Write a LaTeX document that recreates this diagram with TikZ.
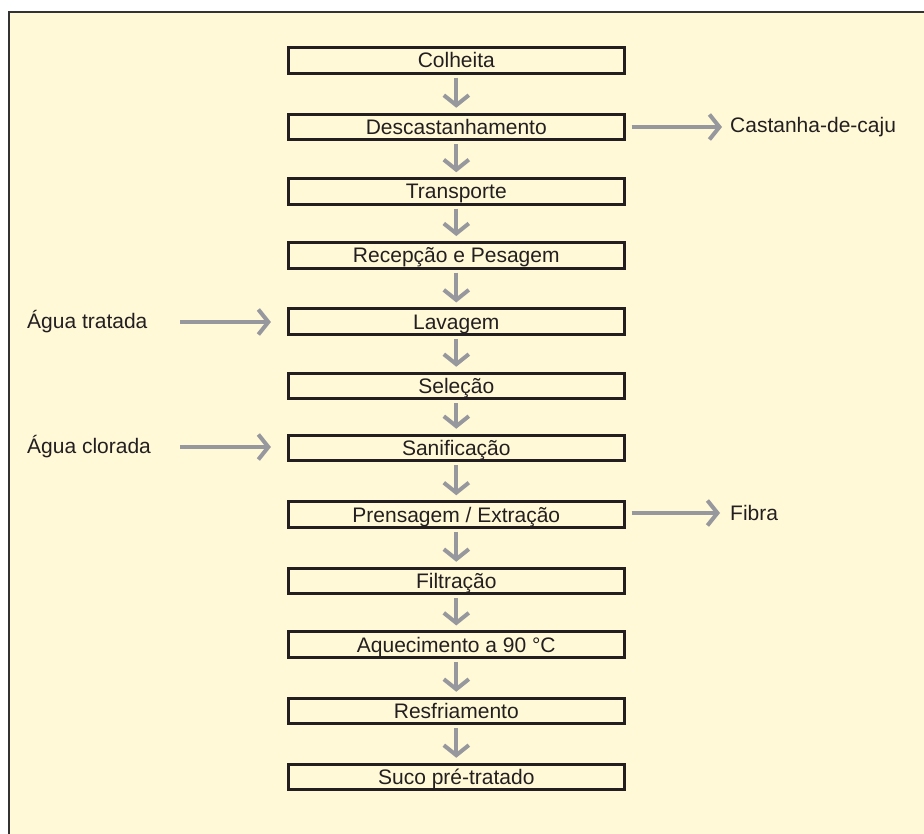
\documentclass[tikz,border=0pt]{standalone}
\usepackage{fontspec}
\setmainfont{Liberation Sans}
\usetikzlibrary{arrows.meta}
\definecolor{bgyellow}{RGB}{255,249,215}
\definecolor{arrgray}{RGB}{150,152,158}
\definecolor{ink}{RGB}{35,31,32}
\begin{document}
\begin{tikzpicture}[x=1pt,y=-1pt,
  stepbox/.style={draw=ink,line width=2.8pt,minimum width=336pt,minimum height=25.7pt,inner sep=0pt,text height=15pt,text depth=0pt,fill=bgyellow,text=ink,font=\fontsize{21}{25}\selectfont},
  lbl/.style={inner sep=0pt,text=ink,font=\fontsize{21}{25}\selectfont},
  flow/.style={draw=arrgray,line width=4pt,-{Straight Barb[length=10pt,width=25pt]}}
]
\useasboundingbox (0,0) rectangle (924,834);
\fill[white] (0,0) rectangle (924,834);
\draw[fill=bgyellow,draw=black!80,line width=2pt] (9,12) rectangle (940,850);

\node[stepbox] (n1) at (456.3,60.5) {Colheita};
\node[stepbox] (n2) at (456.3,127) {Descastanhamento};
\node[stepbox] (n3) at (456.3,191.5) {Transporte};
\node[stepbox] (n4) at (456.3,255.3) {Recepção e Pesagem};
\node[stepbox] (n5) at (456.3,321.7) {Lavagem};
\node[stepbox] (n6) at (456.3,386) {Seleção};
\node[stepbox] (n7) at (456.3,448) {Sanificação};
\node[stepbox] (n8) at (456.3,514.5) {Prensagem / Extração};
\node[stepbox] (n9) at (456.3,581) {Filtração};
\node[stepbox] (n10) at (456.3,644.7) {Aquecimento a 90 °C};
\node[stepbox] (n11) at (456.3,711) {Resfriamento};
\node[stepbox] (n12) at (456.3,777) {Suco pré-tratado};

\foreach \a/\b in {n1/n2,n2/n3,n3/n4,n4/n5,n5/n6,n6/n7,n7/n8,n8/n9,n9/n10,n10/n11,n11/n12}
  \draw[flow,shorten <=3pt,shorten >=5pt] (\a.south) -- (\b.north);

\node[lbl,anchor=west] (cast) at (730,127) {Castanha-de-caju};
\node[lbl,anchor=west] (fibra) at (730,513) {Fibra};
\node[lbl,anchor=west] (agt) at (27,322) {Água tratada};
\node[lbl,anchor=west] (agc) at (27,447) {Água clorada};
\coordinate (agtA) at (180,322);
\coordinate (agcA) at (180,447);

\draw[flow,shorten <=6pt,shorten >=8pt] (n2.east) -- (cast.west);
\draw[flow,shorten <=6pt,shorten >=10pt] (n8.east |- fibra.west) -- (fibra.west);
\draw[flow,shorten >=16pt] (agtA) -- (agtA -| n5.west);
\draw[flow,shorten >=16pt] (agcA) -- (agcA -| n7.west);
\end{tikzpicture}
\end{document}
